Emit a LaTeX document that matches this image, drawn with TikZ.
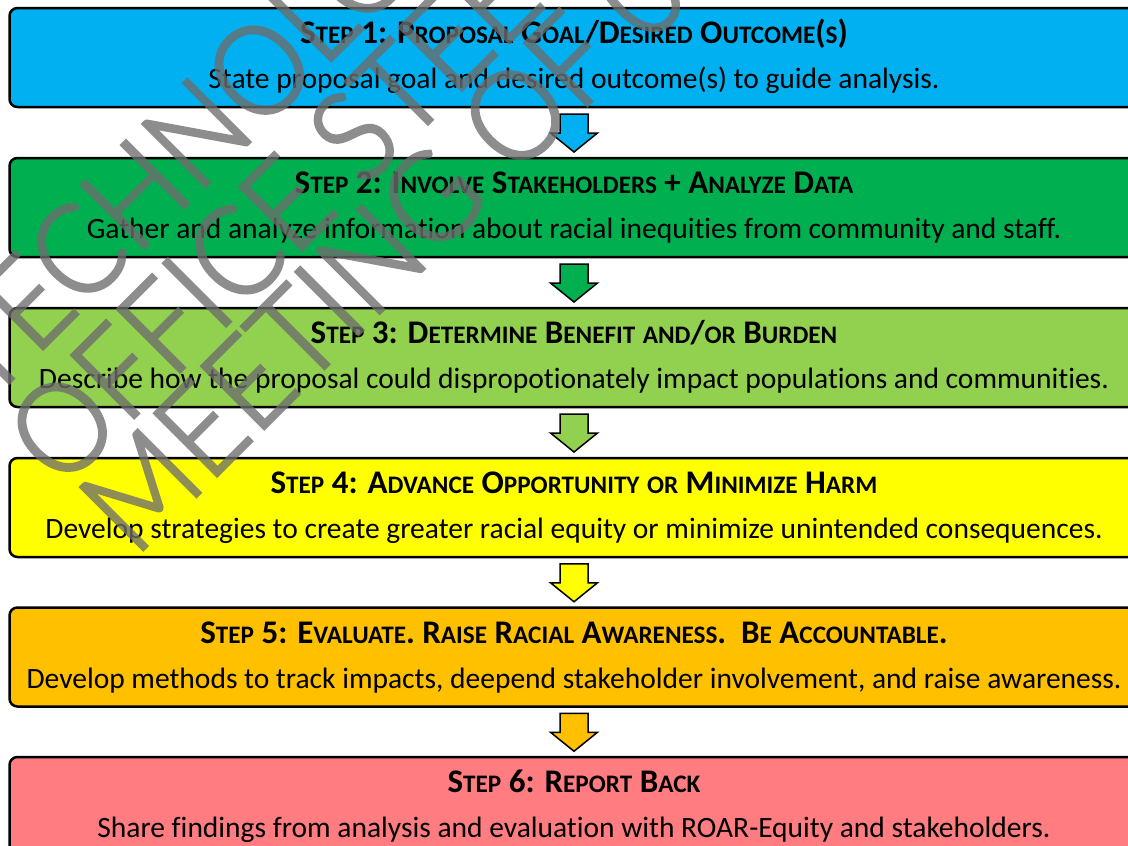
\documentclass[tikz,border=0pt]{standalone}
\usepackage{fontspec}
\setmainfont{Carlito}[Ligatures={NoCommon}]
\IfFontExistsTF{Lato Light}{\newfontfamily\wmfont{Lato Light}[FakeBold=2.5,FakeStretch=0.92]}{\newfontfamily\wmfont{Carlito}}
\usetikzlibrary{calc}
\definecolor{cA}{HTML}{00B0F0}
\definecolor{cB}{HTML}{00B050}
\definecolor{cC}{HTML}{92D050}
\definecolor{cD}{HTML}{FFFF00}
\definecolor{cE}{HTML}{FFC000}
\definecolor{cF}{HTML}{FF7C80}
\definecolor{wmgray}{HTML}{6D6D6D}
\newcommand\sm[1]{{\fontsize{25.2}{25.2}\selectfont #1}}
\tikzset{
  pics/barrow/.style={code={
    \draw[line width=1.5pt, fill=#1, line join=miter]
      (-14,-18.5) -- (14,-18.5) -- (14,0.5) -- (23.5,0.5) -- (0,19.5)
      -- (-23.5,0.5) -- (-14,0.5) -- cycle;}},
  stepbox/.style={draw=black, line width=2.5pt, rounded corners=8pt,
    minimum width=1129pt, minimum height=99pt, inner sep=0pt, outer sep=0pt},
  ttl/.style={anchor=base, inner sep=0pt, font=\bfseries\fontsize{33}{34}\selectfont},
  bdy/.style={anchor=base, inner sep=0pt, font=\fontsize{29.5}{30}\selectfont},
  wm/.style={anchor=base west, inner sep=0pt, rotate=45, text=wmgray,
    font=\wmfont\fontsize{125}{125}\selectfont}
}
\begin{document}
\begin{tikzpicture}[x=1pt,y=-1pt]
\useasboundingbox (0,0) rectangle (1128,846);
\clip (0,0) rectangle (1128,846);
\fill[white] (0,0) rectangle (1128,846);

\node[stepbox, fill=cA] (s1) at (574,57.5) {};
\node[stepbox, fill=cB] (s2) at (574,207.5) {};
\node[stepbox, fill=cC] (s3) at (574,357.5) {};
\node[stepbox, fill=cD] (s4) at (574,507.5) {};
\node[stepbox, fill=cE] (s5) at (574,657) {};
\node[stepbox, fill=cF] (s6) at (574,806.5) {};

\node[ttl] (t1) at ($(s1.center)+(0,-14)$) {S\sm{TEP} 1: P\sm{ROPOSAL} G\sm{OAL}/D\sm{ESIRED} O\sm{UTCOME}(\sm{S})};
\node[bdy] (b1) at ($(s1.center)+(0,31)$) {State proposal goal and desired outcome(s) to guide analysis.};
\node[ttl] (t2) at ($(s2.center)+(0,-14)$) {S\sm{TEP} 2: I\sm{NVOLVE} S\sm{TAKEHOLDERS} + A\sm{NALYZE} D\sm{ATA}};
\node[bdy] (b2) at ($(s2.center)+(0,31)$) {Gather and analyze information about racial inequities from community and staff.};
\node[ttl] (t3) at ($(s3.center)+(0,-14)$) {S\sm{TEP} 3: D\sm{ETERMINE} B\sm{ENEFIT} \sm{AND}/\sm{OR} B\sm{URDEN}};
\node[bdy] (b3) at ($(s3.center)+(0,31)$) {Describe how the proposal could dispropotionately impact populations and communities.};
\node[ttl] (t4) at ($(s4.center)+(0,-14)$) {S\sm{TEP} 4: A\sm{DVANCE} O\sm{PPORTUNITY} \sm{OR} M\sm{INIMIZE} H\sm{ARM}};
\node[bdy] (b4) at ($(s4.center)+(0,31)$) {Develop strategies to create greater racial equity or minimize unintended consequences.};
\node[ttl] (t5) at ($(s5.center)+(0,-14)$) {S\sm{TEP} 5: E\sm{VALUATE}. R\sm{AISE} R\sm{ACIAL} A\sm{WARENESS}.\ \ B\sm{E} A\sm{CCOUNTABLE}.};
\node[bdy] (b5) at ($(s5.center)+(0,31)$) {Develop methods to track impacts, deepend stakeholder involvement, and raise awareness.};
\node[ttl] (t6) at ($(s6.center)+(0,-14)$) {S\sm{TEP} 6: R\sm{EPORT} B\sm{ACK}};
\node[bdy] (b6) at ($(s6.center)+(0,31)$) {Share findings from analysis and evaluation with ROAR-Equity and stakeholders.};

\coordinate (m1) at ($(s1.south)!0.5!(s2.north)$);
\coordinate (m2) at ($(s2.south)!0.5!(s3.north)$);
\coordinate (m3) at ($(s3.south)!0.5!(s4.north)$);
\coordinate (m4) at ($(s4.south)!0.5!(s5.north)$);
\coordinate (m5) at ($(s5.south)!0.5!(s6.north)$);
\pic at (m1) {barrow=cA};
\pic at (m2) {barrow=cB};
\pic at (m3) {barrow=cC};
\pic at (m4) {barrow=cD};
\pic at (m5) {barrow=cE};

\begin{scope}[transparency group, opacity=0.78]
\node[wm] (w1) at (-12.5,404.5) {TECHNOLOGY};
\node[wm] (w2) at (61.2,490.8) {OFFICE STEERING};
\node[wm] (w3) at (134.7,558.3) {MEETING OF 09/};
\end{scope}
\end{tikzpicture}
\end{document}
